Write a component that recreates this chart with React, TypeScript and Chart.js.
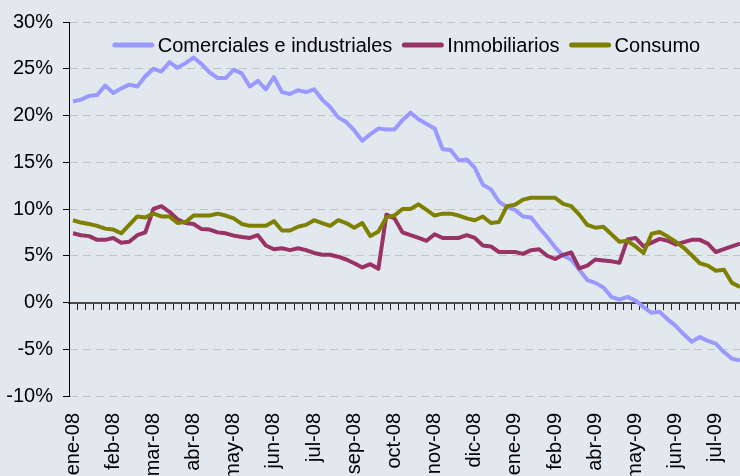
import React, { useEffect, useRef } from 'react';
import { Chart, registerables } from 'chart.js';

Chart.register(...registerables);

// Weekly observations, first week 2 Jan 2008, 84 weeks
const firstWeek = '2008-01-02';
const weekCount = 84;
const categories: string[] = [];
{
  const d0 = new Date(firstWeek + 'T00:00:00Z');
  for (let i = 0; i < weekCount; i++) {
    const d = new Date(d0.getTime() + i * 7 * 86400000);
    categories.push(d.toISOString().slice(0, 10));
  }
}

// Axis labels shown every 5th week
const tickLabels = [
  'ene-08', 'feb-08', 'mar-08', 'abr-08', 'may-08', 'jun-08', 'jul-08', 'sep-08', 'oct-08',
  'nov-08', 'dic-08', 'ene-09', 'feb-09', 'abr-09', 'may-09', 'jun-09', 'jul-09',
];
const labelEvery = 5;

const seriesNames = ['Comerciales e industriales', 'Inmobiliarios', 'Consumo'];
const seriesColors = ['#9999FF', '#993366', '#808000'];

const comerciales = [
  21.5, 21.7, 22.1, 22.2, 23.2, 22.4, 22.9, 23.3, 23.1, 24.2,
  25.0, 24.7, 25.7, 25.1, 25.6, 26.2, 25.5, 24.6, 24.0, 24.0,
  24.9, 24.5, 23.1, 23.7, 22.8, 24.1, 22.5, 22.3, 22.7, 22.5,
  22.8, 21.7, 20.9, 19.8, 19.3, 18.4, 17.3, 18.0, 18.6, 18.5,
  18.5, 19.5, 20.3, 19.6, 19.1, 18.6, 16.4, 16.3, 15.2, 15.3,
  14.4, 12.6, 12.1, 10.8, 10.2, 9.9, 9.2, 9.1, 8.0, 7.0,
  5.9, 5.0, 4.6, 3.5, 2.4, 2.1, 1.6, 0.6, 0.3, 0.6,
  0.2, -0.5, -1.1, -1.0, -1.8, -2.5, -3.4, -4.2, -3.7, -4.1,
  -4.4, -5.3, -6.0, -6.2,
];

const inmobiliarios = [
  7.4, 7.2, 7.1, 6.7, 6.7, 6.9, 6.4, 6.5, 7.2, 7.5,
  10.0, 10.3, 9.7, 8.9, 8.5, 8.4, 7.85, 7.8, 7.5, 7.4,
  7.15, 7.0, 6.9, 7.2, 6.1, 5.7, 5.8, 5.6, 5.8, 5.6,
  5.3, 5.1, 5.1, 4.9, 4.6, 4.2, 3.75, 4.1, 3.6, 9.4,
  9.0, 7.5, 7.2, 6.9, 6.6, 7.3, 6.9, 6.9, 6.9, 7.2,
  6.9, 6.1, 6.0, 5.4, 5.4, 5.4, 5.2, 5.6, 5.7, 5.0,
  4.65, 5.1, 5.35, 3.65, 3.95, 4.6, 4.5, 4.4, 4.25, 6.75,
  6.9, 6.0, 6.4, 6.8, 6.6, 6.2, 6.45, 6.7, 6.7, 6.3,
  5.4, 5.7, 6.0, 6.3,
];

const consumo = [
  8.8, 8.55, 8.4, 8.2, 7.9, 7.8, 7.4, 8.3, 9.2, 9.1,
  9.5, 9.2, 9.2, 8.5, 8.6, 9.3, 9.3, 9.3, 9.5, 9.3,
  9.0, 8.4, 8.2, 8.2, 8.2, 8.7, 7.7, 7.7, 8.1, 8.3,
  8.8, 8.5, 8.2, 8.8, 8.5, 8.0, 8.5, 7.1, 7.6, 9.1,
  9.3, 10.0, 10.0, 10.5, 9.9, 9.3, 9.5, 9.5, 9.3, 9.0,
  8.8, 9.2, 8.5, 8.6, 10.3, 10.45, 11.0, 11.2, 11.2, 11.2,
  11.2, 10.55, 10.3, 9.4, 8.3, 8.0, 8.1, 7.3, 6.5, 6.6,
  6.0, 5.3, 7.35, 7.55, 7.05, 6.5, 5.85, 5.05, 4.2, 3.95,
  3.4, 3.5, 2.1, 1.65,
];

const yMin = -10;
const yMax = 30;
const yStep = 5;

const BG = '#E1E9EF';
const FONT = "'Liberation Sans', Arial, sans-serif";

// Legend drawn inside the plot area, one row, centred
const insideLegend = {
  id: 'insideLegend',
  afterDraw(chart: any) {
    const { ctx, chartArea } = chart;
    const sample = 41;
    const gapText = 4;
    const gapItem = 10;
    const cy = 45;
    ctx.save();
    ctx.font = `20px ${FONT}`;
    ctx.textBaseline = 'middle';
    ctx.textAlign = 'left';
    const items = chart.data.datasets.map((ds: any) => ({
      text: ds.label as string,
      color: ds.borderColor as string,
      w: ctx.measureText(ds.label).width,
    }));
    const total =
      items.reduce((s: number, it: any) => s + sample + gapText + it.w, 0) + gapItem * (items.length - 1);
    let x = (chartArea.left + chartArea.right) / 2 - total / 2;
    items.forEach((it: any) => {
      ctx.strokeStyle = it.color;
      ctx.lineWidth = 5;
      ctx.lineCap = 'round';
      ctx.beginPath();
      ctx.moveTo(x + 2, cy);
      ctx.lineTo(x + sample - 2, cy);
      ctx.stroke();
      ctx.fillStyle = '#000';
      ctx.fillText(it.text, x + sample + gapText, cy + 1);
      x += sample + gapText + it.w + gapItem;
    });
    ctx.restore();
  },
};

export default function App() {
  const ref = useRef<HTMLCanvasElement>(null);

  useEffect(() => {
    if (!ref.current) return;
    const seriesData = [comerciales, inmobiliarios, consumo];
    const chart = new Chart(ref.current, {
      type: 'line',
      data: {
        labels: categories,
        datasets: seriesData.map((d, i) => ({
          label: seriesNames[i],
          data: d,
          borderColor: seriesColors[i],
          backgroundColor: seriesColors[i],
          borderWidth: 4,
          pointRadius: 0,
          tension: 0,
          borderJoinStyle: 'round' as const,
          order: 3 - i,
          xAxisID: 'x',
          yAxisID: 'y',
        })),
      },
      options: {
        animation: false,
        responsive: true,
        maintainAspectRatio: false,
        layout: { padding: { top: 17, right: 0, bottom: 0, left: 0 } },
        font: { family: FONT, size: 20 },
        plugins: {
          legend: { display: false },
          tooltip: { enabled: false },
        },
        scales: {
          x: {
            type: 'category',
            position: 'bottom',
            offset: true,
            grid: { display: false, drawTicks: false },
            border: { display: false },
            ticks: {
              autoSkip: false,
              minRotation: 90,
              maxRotation: 90,
              padding: 17,
              color: '#000',
              font: { family: FONT, size: 20 },
              callback: (_v: any, i: number) => (i % labelEvery === 0 ? tickLabels[i / labelEvery] ?? '' : ''),
            },
            afterFit: (s: any) => {
              s.height = 84;
              s.paddingLeft = 0;
              s.paddingRight = 0;
            },
          },
          x2: {
            type: 'category',
            position: { y: 0 },
            offset: true,
            grid: {
              display: true,
              offset: true,
              drawOnChartArea: false,
              drawTicks: true,
              tickLength: 6,
              tickColor: '#222',
              tickWidth: 1,
            },
            border: { display: true, color: '#4a4a4a', width: 2 },
            ticks: { display: false },
            afterFit: (s: any) => {
              s.paddingLeft = 0;
              s.paddingRight = 0;
            },
          },
          y: {
            min: yMin,
            max: yMax,
            ticks: {
              stepSize: yStep,
              padding: 10,
              color: '#000',
              font: { family: FONT, size: 20 },
              callback: (v: any) => `${v}%`,
            },
            grid: {
              color: '#C4C4C4',
              lineWidth: 1,
              tickColor: '#000',
              tickLength: 6,
              tickBorderDash: [],
            },
            border: { display: true, color: '#000', width: 1, dash: [8, 5] },
            afterFit: (s: any) => {
              s.width = 69;
            },
          },
        },
      } as any,
      plugins: [insideLegend],
    });
    return () => chart.destroy();
  }, []);

  return (
    <div style={{ position: 'fixed', left: 0, top: 0, width: 744, height: 480, background: BG }}>
      <canvas ref={ref} />
    </div>
  );
}
